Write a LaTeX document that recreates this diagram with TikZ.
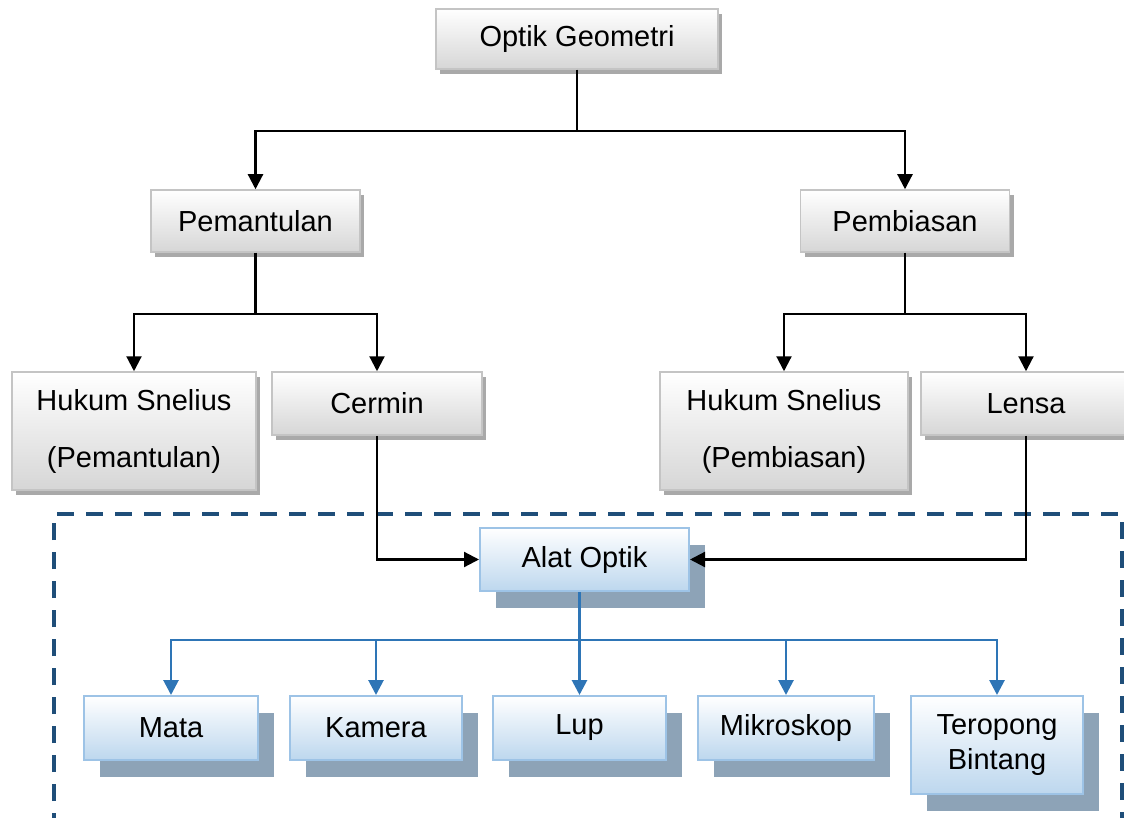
\documentclass[tikz,border=0pt]{standalone}
\usepackage{fontspec}
\setmainfont{Liberation Sans}
\usetikzlibrary{arrows.meta,shadows}

\definecolor{graybd}{HTML}{C4C4C4}
\definecolor{grayfill}{HTML}{D6D6D6}
\definecolor{grayshadow}{HTML}{A9A9A9}
\definecolor{bluebd}{HTML}{9DC3E6}
\definecolor{bluefill}{HTML}{BDD7EE}
\definecolor{blueshadow}{HTML}{8DA3B7}
\definecolor{blueline}{HTML}{2E75B6}
\definecolor{dashblue}{HTML}{1F4E79}

\begin{document}
\begin{tikzpicture}[x=1pt,y=-1pt,
  txt/.style={font=\fontsize{29}{35}\selectfont, align=center, inner sep=0pt, text=black},
  graybox/.style={txt, rectangle, draw=graybd, line width=1.5pt,
    top color=white, bottom color=grayfill,
    general shadow={fill=grayshadow, shadow xshift=4pt, shadow yshift=-5pt}},
  bluebox/.style={txt, rectangle, draw=bluebd, line width=2pt,
    top color=white, bottom color=bluefill,
    general shadow={fill=blueshadow, shadow xshift=16pt, shadow yshift=-17pt}},
  blk/.style={draw=black, line width=2.2pt},
  blkarrow/.style={blk, -{Triangle[width=15pt,length=15pt]}},
  blu/.style={draw=blueline, line width=2.8pt},
  bluarrow/.style={blu, -{Triangle[width=15pt,length=15pt]}},
  frame/.style={draw=dashblue, line width=3.8pt, dash pattern=on 17pt off 12pt}
]
\useasboundingbox (0,0) rectangle (1124,818);
\clip (0,0) rectangle (1124,818);

% first level
\node[graybox, minimum width=282pt, minimum height=60pt] (og) at (577,39) {Optik Geometri};

% second level
\node[graybox, minimum width=209pt, minimum height=62pt] (pem) at (255.5,221) {Pemantulan};
\node[graybox, minimum width=209pt, minimum height=62pt] (pemb) at (905,221) {Pembiasan};

% third level
\node[graybox, minimum width=244pt, minimum height=118pt] (hs1) at (134,431) {Hukum Snelius\\[22pt](Pemantulan)};
\node[graybox, minimum width=210pt, minimum height=63pt] (cer) at (377,403.5) {Cermin};
\node[graybox, minimum width=248pt, minimum height=118pt] (hs2) at (784,431) {Hukum Snelius\\[22pt](Pembiasan)};
\node[graybox, minimum width=210pt, minimum height=63pt] (lensa) at (1026,403.5) {Lensa};

% dashed frame around the optical instruments
\coordinate (fa) at (54,830);
\coordinate (fb) at (54,514);
\coordinate (fc) at (1122,514);
\coordinate (fd) at (1122,830);
\draw[frame] (fa) -- (fb) -- (fc) -- (fd);

% optical instruments
\node[bluebox, minimum width=209pt, minimum height=63pt] (alat) at (584.5,559.5) {Alat Optik};
\node[bluebox, minimum width=174pt, minimum height=64pt] (mata) at (171,728) {Mata};
\node[bluebox, minimum width=172pt, minimum height=64pt] (kamera) at (376,728) {Kamera};
\node[bluebox, minimum width=173pt, minimum height=64pt] (lup) at (579.5,728) {Lup};
\node[bluebox, minimum width=176pt, minimum height=64pt] (mikro) at (786,728) {Mikroskop};
\node[bluebox, minimum width=172pt, minimum height=98pt] (tero) at (997,745) {Teropong\\Bintang};

% connectors: Optik Geometri
\draw[blk] (og.south) -- ++(0,61) coordinate (j1);
\draw[blkarrow] (j1) -| (pem.north);
\draw[blkarrow] (j1) -| (pemb.north);

% connectors: Pemantulan
\draw[blk] (pem.south) -- ++(0,61) coordinate (j2);
\draw[blkarrow] (j2) -| (hs1.north);
\draw[blkarrow] (j2) -| (cer.north);

% connectors: Pembiasan
\draw[blk] (pemb.south) -- ++(0,61) coordinate (j3);
\draw[blkarrow] (j3) -| (hs2.north);
\draw[blkarrow] (j3) -| (lensa.north);

% connectors into Alat Optik
\draw[blkarrow] (cer.south) |- (alat.west);
\draw[blkarrow] (lensa.south) |- (alat.east);

% connectors: Alat Optik to instruments
\draw[blu] (alat.south -| lup.north) -- ++(0,48) coordinate (j4);
\draw[bluarrow] (j4) -| (mata.north);
\draw[bluarrow] (j4) -| (kamera.north);
\draw[bluarrow] (j4) -- (lup.north);
\draw[bluarrow] (j4) -| (mikro.north);
\draw[bluarrow] (j4) -| (tero.north);
\end{tikzpicture}
\end{document}
